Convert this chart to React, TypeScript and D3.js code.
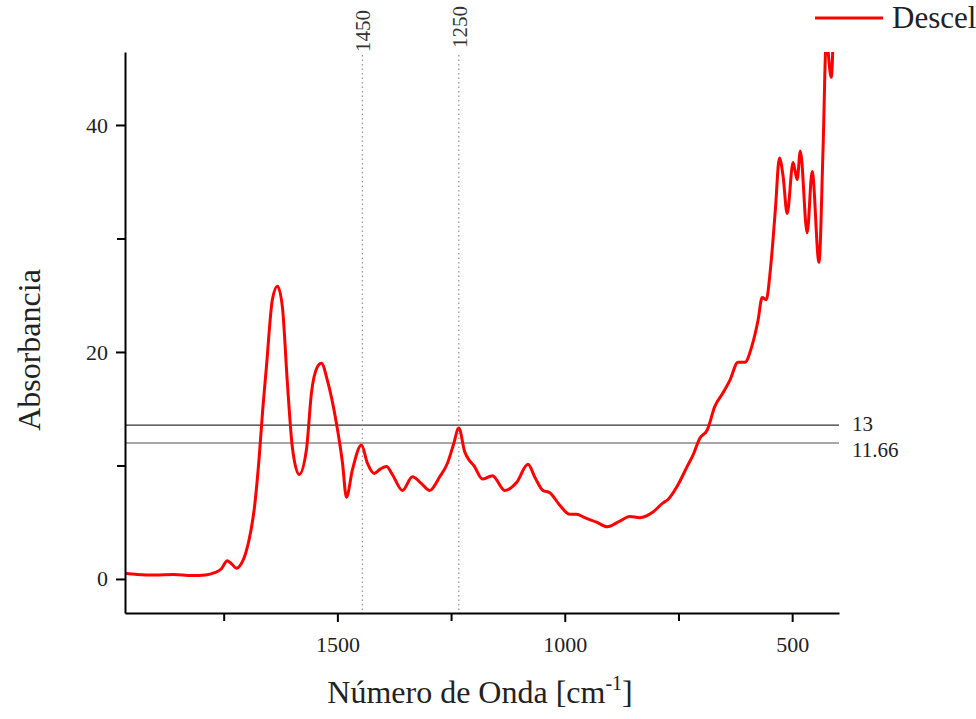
import * as d3 from "d3";
import { useEffect, useRef } from "react";

// espectro: [número de onda, absorbancia]
const wavenumber = [
  1967, 1940, 1900, 1860, 1820, 1790, 1770, 1755, 1742, 1732, 1722, 1712, 1700, 1690, 1683, 1672,
  1664, 1656, 1643, 1632, 1621, 1610, 1599, 1584, 1568, 1557, 1545, 1535, 1522, 1502, 1489, 1480,
  1467, 1447, 1434, 1419, 1405, 1392, 1379, 1357, 1335, 1315, 1297, 1275, 1258, 1245, 1233, 1220,
  1209, 1200, 1181, 1159, 1132, 1106, 1081, 1065, 1048, 1033, 1011, 989, 974, 956, 930, 907,
  879, 857, 835, 806, 784, 773, 751, 731, 718, 703, 687, 670, 652, 637, 619, 604,
  588, 575, 566, 557, 548, 537, 528, 520, 511, 498, 489, 482, 467, 456, 441, 432,
  425, 414, 410,
];
const absorbance = [
  0.5, 0.4, 0.35, 0.4, 0.3, 0.35, 0.55, 0.9, 1.6, 1.3, 0.95, 1.3, 2.5, 4.3, 6.1, 10.7,
  15, 18.7, 24.6, 25.8, 24.0, 17.3, 11.6, 9.2, 11.4, 16.4, 18.6, 19.0, 17.5, 13.7, 10.3, 7.2,
  9.6, 11.8, 10.2, 9.3, 9.7, 9.9, 9.2, 7.8, 9.0, 8.4, 7.8, 9.0, 10.2, 11.8, 13.3, 11.2,
  10.4, 10.0, 8.8, 9.1, 7.8, 8.5, 10.1, 8.9, 7.8, 7.6, 6.5, 5.7, 5.7, 5.4, 5.0, 4.6,
  5.1, 5.5, 5.4, 5.9, 6.7, 7.0, 8.3, 9.9, 10.9, 12.4, 13.1, 15.2, 16.4, 17.5, 19.1, 19.1,
  20.6, 22.8, 24.8, 24.6, 27.2, 32.5, 37.1, 35.5, 32.2, 36.7, 35.2, 37.7, 30.5, 35.9, 27.9, 38,
  47.5, 44.2, 47.5,
];

const xMajor = [1500, 1000, 500];
const xMinor = [1750, 1250, 750];
const yMajor = [0, 20, 40];
const yMinor = [10, 30];

// líneas de referencia
const vLines = [
  { label: "1450", value: 1445 },
  { label: "1250", value: 1233 },
];
const hLines = [
  { label: "13", value: 13.55, color: "#333" },
  { label: "11.66", value: 11.98, color: "#888" },
];

const seriesName = "Descel";

const W = 976;
const H = 719;
const margin = { top: 52, right: 137, bottom: 106, left: 125 };
const font = "'Liberation Serif', 'Times New Roman', serif";

export default function App() {
  const xAxisRef = useRef<SVGGElement>(null);
  const yAxisRef = useRef<SVGGElement>(null);

  const x = d3.scaleLinear().domain([1967, 397]).range([margin.left, W - margin.right]);
  const y = d3.scaleLinear().domain([-3.0, 46.43]).range([H - margin.bottom, margin.top]);

  const data = wavenumber.map((w, i) => [w, absorbance[i]] as [number, number]);
  const line = d3
    .line<[number, number]>()
    .x((d) => x(d[0]))
    .y((d) => y(d[1]))
    .curve(d3.curveMonotoneX);

  useEffect(() => {
    const gx = d3.select(xAxisRef.current);
    gx.selectAll("*").remove();
    gx.call(
      d3.axisBottom(x).tickValues(xMajor).tickSize(9).tickSizeOuter(0).tickPadding(14).tickFormat(d3.format("d"))
    );
    gx.append("g").call(
      d3.axisBottom(x).tickValues(xMinor).tickSize(8).tickSizeOuter(0).tickFormat(() => "")
    ).select(".domain").remove();

    const gy = d3.select(yAxisRef.current);
    gy.selectAll("*").remove();
    gy.call(d3.axisLeft(y).tickValues(yMajor).tickSize(9).tickSizeOuter(0).tickPadding(8));
    gy.append("g").call(
      d3.axisLeft(y).tickValues(yMinor).tickSize(8).tickSizeOuter(0).tickFormat(() => "")
    ).select(".domain").remove();

    [gx, gy].forEach((g) => {
      g.selectAll("path, line").attr("stroke", "#000").attr("stroke-width", 2);
      g.selectAll("text").attr("font-family", font).attr("font-size", 22).attr("fill", "#222");
    });
  });

  return (
    <svg width={W} height={H} style={{ position: "absolute", left: 0, top: 0, background: "#fff" }}>
      <defs>
        <clipPath id="plot">
          <rect x={margin.left} y={margin.top} width={W - margin.left - margin.right} height={H - margin.top - margin.bottom} />
        </clipPath>
      </defs>

      {hLines.map((l) => (
        <g key={l.label}>
          <line x1={margin.left} x2={W - margin.right} y1={y(l.value)} y2={y(l.value)} stroke={l.color} strokeWidth={1.4} />
          <text x={852} y={y(l.value) + (l.label === "13" ? 6 : 14)} fontFamily={font} fontSize={21} fill="#222">
            {l.label}
          </text>
        </g>
      ))}

      {vLines.map((l) => (
        <g key={l.label}>
          <line x1={x(l.value)} x2={x(l.value)} y1={55} y2={H - margin.bottom} stroke="#999" strokeWidth={1.3} strokeDasharray="1.5,3" />
          <text
            transform={`translate(${x(l.value) + 8},${l.label === "1450" ? 52 : 48}) rotate(-90)`}
            fontFamily={font}
            fontSize={21}
            fill="#333"
          >
            {l.label}
          </text>
        </g>
      ))}

      <path d={line(data) ?? ""} fill="none" stroke="#ff0000" strokeWidth={3} clipPath="url(#plot)" strokeLinejoin="round" />

      <g ref={xAxisRef} transform={`translate(0,${H - margin.bottom})`} />
      <g ref={yAxisRef} transform={`translate(${margin.left},0)`} />

      <text x={480} y={703} textAnchor="middle" fontFamily={font} fontSize={32} fill="#222">
        Número de Onda [cm
        <tspan dy={-13} fontSize={20}>-1</tspan>
        <tspan dy={13}>]</tspan>
      </text>
      <text transform="translate(40,350) rotate(-90)" textAnchor="middle" fontFamily={font} fontSize={32} fill="#222">
        Absorbancia
      </text>

      <line x1={815} x2={883} y1={18} y2={18} stroke="#ff0000" strokeWidth={3} />
      <text x={892} y={28} fontFamily={font} fontSize={31} fill="#222">
        {seriesName}
      </text>
    </svg>
  );
}
